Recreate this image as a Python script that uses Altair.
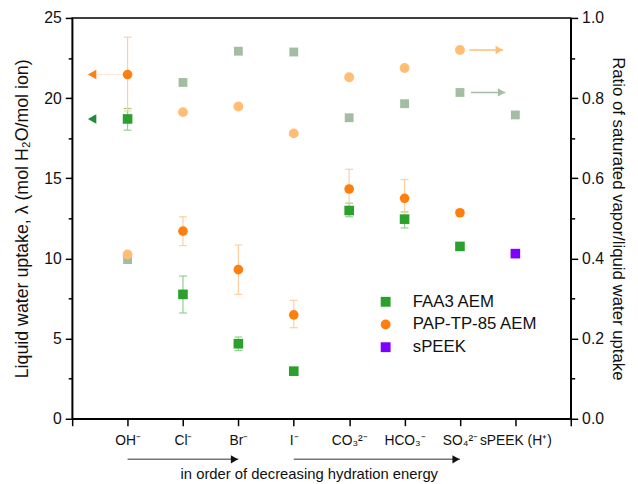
import json
import altair as alt
import pandas as pd

FONT = "Liberation Sans"

# ---------------- data ----------------
categories = ["OH⁻", "Cl⁻", "Br⁻", "I⁻", "CO₃²⁻", "HCO₃⁻", "SO₄²⁻", "sPEEK (H⁺)"]
positions = [1, 2, 3, 4, 5, 6, 7, 8]

# liquid water uptake (left axis)
faa3_liquid = [18.7, 7.76, 4.68, 2.97, 12.99, 12.45, 10.75]
faa3_err_lo = [18.0, 6.6, 4.25, None, 12.6, 11.9, 10.6]
faa3_err_hi = [19.35, 8.9, 5.1, None, 13.45, 12.9, 10.95]
pap_liquid = [21.47, 11.7, 9.3, 6.48, 14.33, 13.75, 12.85]
pap_err_lo = [19.2, 10.8, 7.76, 5.68, 13.1, 12.7, None]
pap_err_hi = [23.8, 12.6, 10.84, 7.39, 15.56, 14.92, None]
speek_liquid = [10.3]
speek_pos = [8]

# ratio of saturated vapor / liquid uptake (right axis)
faa3_ratio = [0.397, 0.839, 0.917, 0.915, 0.751, 0.786, 0.814, 0.758]
pap_ratio = [0.41, 0.765, 0.779, 0.712, 0.852, 0.875, 0.920]

series_names = ["FAA3 AEM", "PAP-TP-85 AEM", "sPEEK"]
series_colors = ["#2ca02c", "#ff7f0e", "#8000ff"]
series_shapes = ["square", "circle", "square"]

# annotation arrows (data coordinates)
left_arrow_x = [0.36, 0.36]
left_arrow_y = [21.47, 18.7]
left_arrow_col = ["#ff7f0e", "#1f8a3a"]
right_arrow_x1 = [7.17, 7.2]
right_arrow_x2 = [7.78, 7.82]
right_arrow_y = [0.920, 0.814]
right_arrow_col = ["#ffbe73", "#a3bda3"]
bottom_arrow_x1 = [1, 4]
bottom_arrow_x2 = [3, 7]
bottom_text = ["in order of decreasing hydration energy"]
bottom_text_x = [4.28]

# ---------------- frames ----------------
liquid_df = pd.DataFrame({
    "x": positions[:7] + positions[:7] + speek_pos,
    "y": faa3_liquid + pap_liquid + speek_liquid,
    "series": ["FAA3 AEM"] * 7 + ["PAP-TP-85 AEM"] * 7 + ["sPEEK"],
})
faa3_err_df = pd.DataFrame({"x": positions[:7], "lo": faa3_err_lo, "hi": faa3_err_hi}).dropna()
pap_err_df = pd.DataFrame({"x": positions[:7], "lo": pap_err_lo, "hi": pap_err_hi}).dropna()
faa3_caps = pd.concat([faa3_err_df[["x", "lo"]].rename(columns={"lo": "v"}),
                       faa3_err_df[["x", "hi"]].rename(columns={"hi": "v"})])
pap_caps = pd.concat([pap_err_df[["x", "lo"]].rename(columns={"lo": "v"}),
                      pap_err_df[["x", "hi"]].rename(columns={"hi": "v"})])
ratio_sq_df = pd.DataFrame({"x": positions, "r": faa3_ratio})
ratio_ci_df = pd.DataFrame({"x": positions[:7], "r": pap_ratio})
larrow_df = pd.DataFrame({"x": left_arrow_x, "y": left_arrow_y, "c": left_arrow_col})
lline_df = pd.DataFrame({"x": [left_arrow_x[0]], "x2": [positions[0]], "y": [left_arrow_y[0]]})
rarrow_df = pd.DataFrame({"x": right_arrow_x1, "x2": right_arrow_x2, "r": right_arrow_y, "c": right_arrow_col})
barrow_df = pd.DataFrame({"x": bottom_arrow_x1, "x2": bottom_arrow_x2})
btext_df = pd.DataFrame({"x": bottom_text_x, "t": bottom_text})

# ---------------- scales / axes ----------------
tick_labels = [""] + categories + [""]
xscale = alt.Scale(domain=[0, 9], nice=False, zero=False)
xaxis = alt.Axis(
    values=list(range(10)),
    labelExpr=json.dumps(tick_labels, ensure_ascii=False) + "[round(datum.value)]",
    title=None, tickSize=7, labelFontSize=14, labelPadding=8, labelAngle=0,
    labelFont=FONT, labelColor="#111", labelOverlap=False, labelFlush=False,
    grid=False,
)
X = alt.X("x:Q", scale=xscale, axis=xaxis)

yl_scale = alt.Scale(domain=[0, 25], nice=False, zero=False)
yl_axis = alt.Axis(
    orient="left",
    values=[0, 2.5, 5, 7.5, 10, 12.5, 15, 17.5, 20, 22.5, 25],
    labelExpr="datum.value % 5 == 0 ? datum.label : ''",
    tickSize={"condition": {"test": "datum.value % 5 != 0", "value": 4}, "value": 7},
    title="Liquid water uptake, λ (mol H₂O/mol ion)",
    titleFontSize=18, titleFontWeight="normal", titleFont=FONT, titlePadding=12,
    labelFontSize=16, labelFont=FONT, labelPadding=4, grid=False,
)
yr_scale = alt.Scale(domain=[0, 1], nice=False, zero=False)
yr_axis = alt.Axis(
    orient="right",
    values=[0.0, 0.1, 0.2, 0.3, 0.4, 0.5, 0.6, 0.7, 0.8, 0.9, 1.0],
    format=".1f",
    labelExpr="round(datum.value * 10) % 2 == 0 ? datum.label : ''",
    tickSize={"condition": {"test": "round(datum.value * 10) % 2 != 0", "value": 4}, "value": 7},
    title="Ratio of saturated vapor/liquid water uptake",
    titleFontSize=17, titleFontWeight="normal", titleFont=FONT, titlePadding=5,
    labelFontSize=16, labelFont=FONT, labelPadding=4, grid=False,
)

def YL(field):
    return alt.Y(field, scale=yl_scale, axis=yl_axis)

def YR(field):
    return alt.Y(field, scale=yr_scale, axis=yr_axis)

# ---------------- right-axis layers ----------------
ratio_sq = alt.Chart(ratio_sq_df).mark_square(size=80, color="#a3bda3", opacity=1).encode(
    x=X, y=YR("r:Q"))
ratio_ci = alt.Chart(ratio_ci_df).mark_circle(size=100, color="#ffbe73", opacity=1).encode(
    x=X, y=YR("r:Q"))
rarrow_line = alt.Chart(rarrow_df).mark_rule(strokeWidth=1.5).encode(
    x=X, x2="x2:Q", y=YR("r:Q"), color=alt.Color("c:N", scale=None))
rarrow_head = alt.Chart(rarrow_df).mark_point(shape="triangle-right", filled=True, size=70,
                                               opacity=1, xOffset=-4).encode(
    x=alt.X("x2:Q", scale=xscale, axis=xaxis), y=YR("r:Q"), color=alt.Color("c:N", scale=None))
right_group = alt.layer(ratio_sq, ratio_ci, rarrow_line, rarrow_head)

# ---------------- left-axis layers ----------------
faa3_bar = alt.Chart(faa3_err_df).mark_rule(color="#8fd18f", strokeWidth=1.2).encode(
    x=X, y=YL("lo:Q"), y2="hi:Q")
faa3_cap = alt.Chart(faa3_caps).mark_rule(color="#8fd18f", strokeWidth=1.2, xOffset=-4, x2Offset=4).encode(
    x=X, x2="x:Q", y=YL("v:Q"))
pap_bar = alt.Chart(pap_err_df).mark_rule(color="#ffcf9f", strokeWidth=1.2).encode(
    x=X, y=YL("lo:Q"), y2="hi:Q")
pap_cap = alt.Chart(pap_caps).mark_rule(color="#ffcf9f", strokeWidth=1.2, xOffset=-4, x2Offset=4).encode(
    x=X, x2="x:Q", y=YL("v:Q"))

leg = alt.Legend(
    title=None, orient="none", legendX=309, legendY=279, padding=0,
    labelFont=FONT, labelFontSize=17, labelColor="#111", labelOffset=19,
    symbolSize=100, symbolStrokeWidth=0, rowPadding=5,
)
points = alt.Chart(liquid_df).mark_point(filled=True, size=95, opacity=1).encode(
    x=X, y=YL("y:Q"),
    color=alt.Color("series:N", scale=alt.Scale(domain=series_names, range=series_colors), legend=leg),
    shape=alt.Shape("series:N", scale=alt.Scale(domain=series_names, range=series_shapes), legend=leg),
)
lline = alt.Chart(lline_df).mark_rule(color="#ffdcbc", strokeWidth=1, opacity=0.6).encode(
    x=X, x2="x2:Q", y=YL("y:Q"))
larrow = alt.Chart(larrow_df).mark_point(shape="triangle-left", filled=True, size=95, opacity=1).encode(
    x=X, y=YL("y:Q"), color=alt.Color("c:N", scale=None))
barrow_line = alt.Chart(barrow_df).mark_rule(color="#777", strokeWidth=1.5).encode(
    x=X, x2="x2:Q", y=alt.value(447))
barrow_head = alt.Chart(barrow_df).mark_point(shape="triangle-right", filled=True, size=70,
                                               opacity=1, color="#111", xOffset=-4).encode(
    x=alt.X("x2:Q", scale=xscale, axis=xaxis), y=alt.value(447))
btext = alt.Chart(btext_df).mark_text(font=FONT, fontSize=15, color="#111", baseline="middle").encode(
    x=X, y=alt.value(462), text="t:N")

left_group = alt.layer(faa3_bar, faa3_cap, pap_bar, pap_cap, lline, larrow, points,
                       barrow_line, barrow_head, btext)

chart = alt.layer(right_group, left_group).resolve_scale(y="independent").properties(
    width=505, height=406,
    padding={"left": 65, "top": 7, "right": 60, "bottom": 63},
    autosize=alt.AutoSizeParams(type="none"),
).configure_view(stroke="black", strokeWidth=1.5).configure_axis(
    domainColor="black", domainWidth=1.5, tickColor="black", tickWidth=1.5,
    labelColor="#111", titleColor="#111",
)

chart.save("out.html", embed_options={"renderer": "svg", "actions": False})
